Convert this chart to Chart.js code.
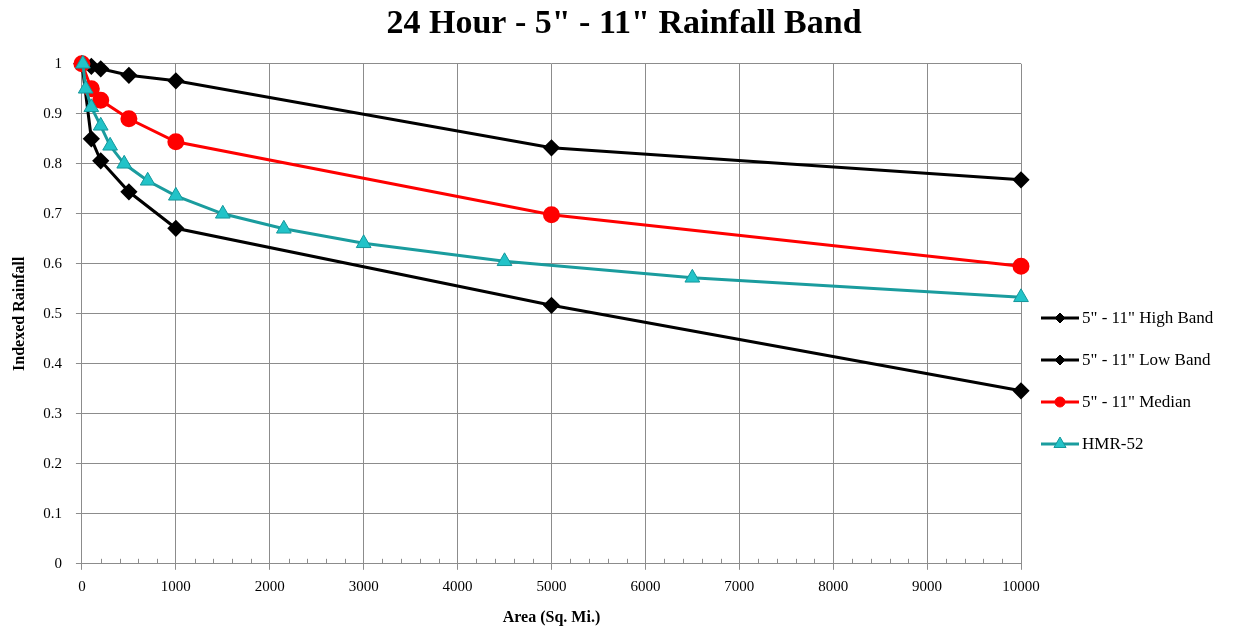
<!DOCTYPE html>
<html>
<head>
<meta charset="utf-8">
<script src="https://cdn.jsdelivr.net/npm/chart.js@4/dist/chart.umd.min.js"></script>
<style>
  html, body { margin: 0; padding: 0; background: #fff; }
  #wrap { width: 1238px; height: 630px; }
</style>
</head>
<body>
<div id="wrap"><canvas id="myChart" width="1238" height="630"></canvas></div>
<script>
// depth-area curves, area in sq. mi. vs indexed rainfall
var highX = [0, 100, 200, 500, 1000, 5000, 10000];
var highY = [1.0, 0.995, 0.99, 0.977, 0.966, 0.832, 0.768];

var lowX = [0, 100, 200, 500, 1000, 5000, 10000];
var lowY = [1.0, 0.85, 0.806, 0.744, 0.671, 0.517, 0.346];

var medX = [0, 100, 200, 500, 1000, 5000, 10000];
var medY = [1.0, 0.95, 0.927, 0.89, 0.844, 0.698, 0.595];

var hmrX = [10, 40, 100, 200, 300, 450, 700, 1000, 1500, 2150, 3000, 4500, 6500, 10000];
var hmrY = [1.0, 0.95, 0.913, 0.876, 0.836, 0.80, 0.766, 0.736, 0.70, 0.67, 0.641, 0.605, 0.572, 0.533];

var seriesNames = ['5" - 11" High Band', '5" - 11" Low Band', '5" - 11" Median', 'HMR-52'];
var xTicks = [0, 1000, 2000, 3000, 4000, 5000, 6000, 7000, 8000, 9000, 10000];

var SERIF = '"Liberation Serif", "DejaVu Serif", serif';
var GRID = '#8c8c8c';

function pairs(xs, ys){
	return xs.map(function(x, i){ return {x: x, y: ys[i]}; });
}

// small upward ticks every 200 along the x axis
var minorTicks = {
	id: 'minorTicks',
	beforeDatasetsDraw: function(chart){
		var ctx = chart.ctx, xs = chart.scales.x, bottom = chart.chartArea.bottom;
		ctx.save();
		ctx.strokeStyle = GRID;
		ctx.lineWidth = 1;
		for (var v = 200; v < 10000; v += 200) {
			if (v % 1000 === 0) continue;
			var px = Math.round(xs.getPixelForValue(v)) + 0.5;
			ctx.beginPath();
			ctx.moveTo(px, bottom);
			ctx.lineTo(px, bottom - 5);
			ctx.stroke();
		}
		ctx.restore();
	}
};

// legend with line + marker samples, right of the plot
var lineLegend = {
	id: 'lineLegend',
	afterDraw: function(chart){
		var ctx = chart.ctx;
		var x0 = chart.chartArea.right + 20;
		chart.data.datasets.forEach(function(ds, i){
			var y = 318 + i * 42;
			ctx.save();
			ctx.strokeStyle = ds.borderColor;
			ctx.lineWidth = 3;
			ctx.beginPath();
			ctx.moveTo(x0, y);
			ctx.lineTo(x0 + 38, y);
			ctx.stroke();
			ctx.fillStyle = ds.pointBackgroundColor;
			ctx.strokeStyle = ds.pointBorderColor;
			ctx.lineWidth = 1;
			Chart.helpers.drawPoint(ctx, {pointStyle: ds.pointStyle, radius: ds.legendRadius, borderWidth: 1}, x0 + 19, y);
			ctx.fillStyle = '#000';
			ctx.font = '17px ' + SERIF;
			ctx.textBaseline = 'middle';
			ctx.fillText(ds.label, x0 + 41, y + 1);
			ctx.restore();
		});
	}
};

var ctx = document.getElementById('myChart').getContext('2d');
new Chart(ctx, {
	type: 'line',
	data: {
		datasets: [
		{
			label: seriesNames[0],
			data: pairs(highX, highY),
			borderColor: '#000',
			borderWidth: 3,
			pointStyle: 'rectRot',
			pointRadius: 6.5,
			legendRadius: 5,
			pointBackgroundColor: '#000',
			pointBorderColor: '#000',
			clip: false,
			order: 3
		},
		{
			label: seriesNames[1],
			data: pairs(lowX, lowY),
			borderColor: '#000',
			borderWidth: 3,
			pointStyle: 'rectRot',
			pointRadius: 6.5,
			legendRadius: 5,
			pointBackgroundColor: '#000',
			pointBorderColor: '#000',
			clip: false,
			order: 2
		},
		{
			label: seriesNames[2],
			data: pairs(medX, medY),
			borderColor: '#ff0000',
			borderWidth: 3,
			pointStyle: 'circle',
			pointRadius: 7,
			legendRadius: 5,
			pointBackgroundColor: '#ff0000',
			pointBorderColor: '#ff0000',
			clip: false,
			order: 1
		},
		{
			label: seriesNames[3],
			data: pairs(hmrX, hmrY),
			borderColor: '#1a9c9e',
			borderWidth: 3,
			pointStyle: 'triangle',
			pointRadius: 8.5,
			legendRadius: 7,
			pointBackgroundColor: '#22c3c8',
			pointBorderColor: '#14979b',
			pointBorderWidth: 1,
			clip: false,
			order: 0
		}]
	},
	options: {
		responsive: false,
		animation: false,
		layout: {padding: {left: 10, right: 0, top: 0, bottom: 0}},
		plugins: {
			legend: {display: false},
			tooltip: {enabled: false},
			title: {
				display: true,
				text: '24 Hour - 5" - 11" Rainfall Band',
				color: '#000',
				font: {family: SERIF, size: 34, weight: 'bold'},
				padding: {top: 4, bottom: 19}
			}
		},
		scales: {
			x: {
				type: 'linear',
				min: 0,
				max: 10000,
				afterBuildTicks: function(axis){
					axis.ticks = xTicks.map(function(v){ return {value: v}; });
				},
				grid: {color: GRID, lineWidth: 1, tickLength: 6},
				border: {color: GRID},
				ticks: {
					color: '#000',
					font: {family: SERIF, size: 15},
					padding: 8,
					maxRotation: 0,
					callback: function(v){ return String(v); }
				},
				title: {
					display: true,
					text: 'Area (Sq. Mi.)',
					color: '#000',
					font: {family: SERIF, size: 16, weight: 'bold'},
					padding: {top: 4, bottom: 3}
				}
			},
			y: {
				min: 0,
				max: 1,
				ticks: {
					stepSize: 0.1,
					color: '#000',
					font: {family: SERIF, size: 15},
					padding: 14,
					callback: function(v){ return String(+v.toFixed(1)); }
				},
				grid: {color: GRID, lineWidth: 1, tickLength: 6},
				border: {color: GRID},
				title: {
					display: true,
					text: 'Indexed Rainfall',
					color: '#000',
					font: {family: SERIF, size: 16, weight: 'bold'},
					padding: {top: 0, bottom: 0}
				}
			},
			// empty right-hand strip that holds the legend
			side: {
				position: 'right',
				min: 0,
				max: 1,
				grid: {display: false},
				border: {display: false},
				ticks: {display: false},
				afterFit: function(axis){ axis.width = 217; }
			}
		}
	},
	plugins: [minorTicks, lineLegend]
});
</script>
</body>
</html>
